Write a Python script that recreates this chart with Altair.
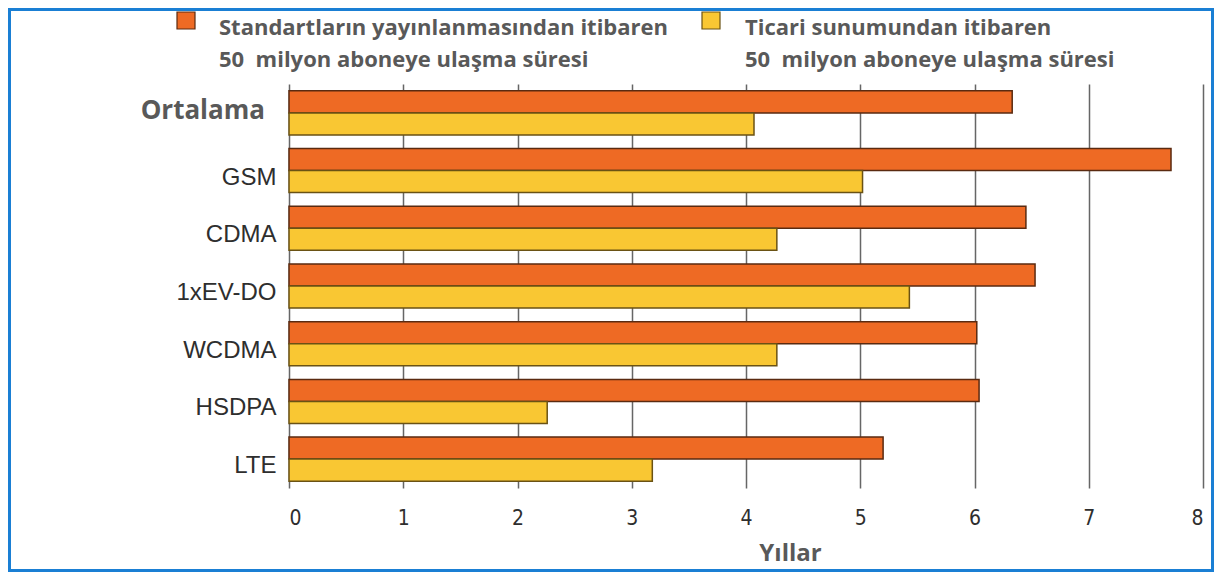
import altair as alt
import pandas as pd

# ---- data ----
categories = ["Ortalama", "GSM", "CDMA", "1xEV-DO", "WCDMA", "HSDPA", "LTE"]
std_values = [6.33, 7.72, 6.45, 6.53, 6.02, 6.04, 5.20]   # from standard publication
com_values = [4.07, 5.02, 4.27, 5.43, 4.27, 2.26, 3.18]   # from commercial launch
series_keys = ["std", "com"]
series_labels = [
    "Standartların yayınlanmasından itibaren\n50\u00a0 milyon aboneye ulaşma süresi",
    "Ticari sunumundan itibaren\n50\u00a0 milyon aboneye ulaşma süresi",
]
x_ticks = [0, 1, 2, 3, 4, 5, 6, 7, 8]
x_title = "Yıllar"

fills = ["#EE6A24", "#F9C733"]
strokes = ["#5A2A10", "#6A5214"]
text_gray = "#595959"
label_dark = "#2E2E2E"

rows = []
for c, a, b in zip(categories, std_values, com_values):
    rows.append({"cat": c, "series": series_keys[0], "value": a})
    rows.append({"cat": c, "series": series_keys[1], "value": b})
df = pd.DataFrame(rows)

W, H = 914, 404
PAD_L, PAD_T = 281, 76
TOTAL_W, TOTAL_H = 1206, 564

y_scale = alt.Scale(domain=categories, paddingInner=0.237, paddingOuter=0.119)
y_axis = alt.Axis(title=None, domain=False, ticks=False, labelPadding=13, labelOffset=7,
                  labelFont="Liberation Sans", labelFontSize=24,
                  labelColor=label_dark,
                  labelExpr="datum.value == 'Ortalama' ? '' : datum.label")

bars = alt.Chart(df).mark_bar(strokeWidth=1.5).encode(
    y=alt.Y("cat:N", sort=categories, scale=y_scale, axis=y_axis),
    yOffset=alt.YOffset("series:N", sort=series_keys,
                        scale=alt.Scale(domain=series_keys, paddingInner=0, paddingOuter=0)),
    x=alt.X("value:Q", scale=alt.Scale(domain=[0, 8], nice=False),
            axis=alt.Axis(values=x_ticks, grid=True, gridColor="#666666", gridWidth=1.5,
                          domain=False, ticks=False, labelPadding=19,
                          labelFont="DejaVu Sans Condensed, Liberation Sans Narrow, Liberation Sans",
                          labelFontSize=21, labelColor=label_dark,
                          title=x_title, titleX=501, titleY=65, titleAlign="center",
                          titleBaseline="middle", titleFont="Open Sans",
                          titleFontWeight="bold", titleFontSize=24, titleColor=text_gray)),
    color=alt.Color("series:N", scale=alt.Scale(domain=series_keys, range=fills), legend=None),
    stroke=alt.Stroke("series:N", scale=alt.Scale(domain=series_keys, range=strokes), legend=None),
)

ortalama = alt.Chart(pd.DataFrame({"cat": [categories[0]]})).mark_text(
    align="right", baseline="middle", dy=-2, font="Open Sans", fontWeight="bold",
    fontSize=26, color=text_gray,
).encode(
    y=alt.Y("cat:N", sort=categories, scale=y_scale, axis=y_axis),
    x=alt.value(-24),
    text="cat:N",
)

one = pd.DataFrame({"k": [0]})
legend_layers = []
sq_x = [-112, 413]
tx_x = [-70, 456]
for i in range(2):
    legend_layers.append(
        alt.Chart(one).mark_rect(fill=fills[i], stroke=strokes[i], strokeWidth=1.2).encode(
            x=alt.value(sq_x[i]), x2=alt.value(sq_x[i] + 18),
            y=alt.value(-72), y2=alt.value(-55),
        )
    )
    legend_layers.append(
        alt.Chart(pd.DataFrame({"t": [series_labels[i]]})).mark_text(
            align="left", baseline="top", lineBreak="\n", lineHeight=32,
            font="Open Sans", fontWeight="bold", fontSize=22, color=text_gray,
        ).encode(x=alt.value(tx_x[i]), y=alt.value(-66), text="t:N")
    )

border = alt.Chart(one).mark_rect(fill=None, fillOpacity=0, stroke="#1A7FD4", strokeWidth=3).encode(
    x=alt.value(-PAD_L + 1.5), x2=alt.value(TOTAL_W - PAD_L - 1.5),
    y=alt.value(-PAD_T + 1.5), y2=alt.value(TOTAL_H - PAD_T - 1.5),
)

chart = alt.layer(bars, ortalama, *legend_layers, border).properties(
    width=W, height=H,
    padding={"left": PAD_L, "top": PAD_T, "right": TOTAL_W - PAD_L - W, "bottom": TOTAL_H - PAD_T - H},
    autosize=alt.AutoSizeParams(type="none"),
    background="white",
).configure_view(stroke=None)

chart.save("out.html", embed_options={"renderer": "svg", "actions": False})
